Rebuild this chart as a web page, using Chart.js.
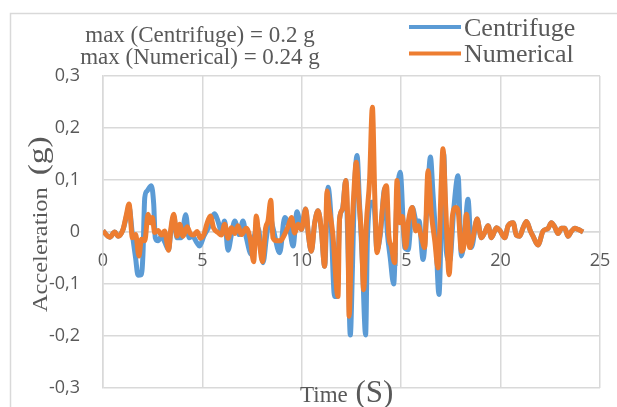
<!DOCTYPE html>
<html>
<head>
<meta charset="utf-8">
<script src="https://cdn.jsdelivr.net/npm/chart.js@4/dist/chart.umd.min.js"></script>
<style>
  body { margin: 0; background: #fff; }
  canvas { display: block; }
</style>
</head>
<body>
<canvas id="accChart" width="617" height="407"></canvas>
<script>
// values, time in s, acceleration in g
const centrifugeTime = [0, 0.34, 0.59, 0.76, 1.01, 1.18, 1.31, 1.48, 1.64, 1.76, 1.93, 2.01, 2.1, 2.22, 2.43, 2.55, 2.63, 2.77, 2.94, 3.1,
  3.3, 3.41, 3.56, 3.72, 3.94, 4.16, 4.33, 4.5, 4.73, 4.86, 5.07, 5.3, 5.62, 5.79, 5.95, 6.12, 6.29, 6.46, 6.63, 6.85,
  7.04, 7.21, 7.46, 7.63, 7.8, 8.05, 8.22, 8.4, 8.55, 8.89, 9.14, 9.39, 9.56, 9.76, 9.98, 10.19, 10.34, 10.48, 10.65, 10.82,
  10.98, 11.15, 11.32, 11.45, 11.65, 11.77, 11.9, 12.05, 12.21, 12.32, 12.44, 12.55, 12.64, 12.78, 12.9, 13.05, 13.21, 13.3, 13.5, 13.62,
  13.78, 13.95, 14.17, 14.3, 14.45, 14.62, 14.78, 14.95, 15.18, 15.35, 15.56, 15.76, 15.9, 16.1, 16.3, 16.47, 16.6, 16.75, 16.9, 17.05,
  17.14, 17.27, 17.44, 17.65, 17.86, 18.03, 18.2, 18.36, 18.53, 18.82, 19.03, 19.2, 19.37, 19.54, 19.79, 19.96, 20.21, 20.38, 20.63, 20.79,
  20.96, 21.13, 21.3, 21.5, 21.63, 21.88, 22.14, 22.39, 22.55, 22.72, 22.89, 23.06, 23.23, 23.39, 23.56, 23.73, 23.9, 24.15];
const centrifugeAcc = [0.002, -0.01, 0, -0.008, 0.005, 0.03, 0.048, -0.005, -0.05, -0.083, -0.082, -0.043, 0.066, 0.079, 0.089, 0.054, -0.011, -0.017, -0.008, -0.019,
  -0.034, 0, 0.031, -0.011, -0.011, 0.033, -0.011, -0.008, -0.021, -0.027, -0.008, 0.008, 0.035, 0.02, 0.002, 0.021, -0.035, -0.005, 0.021, -0.005,
  0.021, -0.011, -0.043, -0.005, 0.008, -0.059, -0.011, 0.03, 0.008, -0.04, 0.028, 0.005, -0.027, 0.039, 0.005, 0.044, -0.008, -0.037, 0.018, 0.041,
  0.005, -0.066, 0.086, 0.04, -0.124, -0.124, 0.025, 0.044, 0.099, -0.027, -0.198, -0.066, 0.07, 0.147, 0.057, -0.06, -0.198, -0.014, 0.057, 0.057,
  -0.034, -0.005, 0.083, 0, -0.05, -0.1, 0.06, 0.115, -0.03, -0.034, 0.047, 0.021, 0.021, -0.053, 0.05, 0.144, 0.073, -0.017, -0.12, 0.07,
  0.15, -0.037, -0.056, 0.047, 0.108, -0.046, 0, 0.063, -0.03, 0.025, -0.011, -0.001, 0.012, -0.011, 0.008, 0.003, -0.011, 0.012, 0.018, -0.006,
  -0.008, 0.008, 0.02, 0.002, -0.008, -0.025, 0.002, 0.007, 0.018, 0.01, -0.003, 0.007, 0.007, -0.008, 0.001, 0.007, 0.005, 0];

const numericalTime = [0, 0.34, 0.59, 0.76, 1.01, 1.18, 1.31, 1.48, 1.64, 1.81, 1.93, 2.1, 2.27, 2.38, 2.48, 2.6, 2.77, 2.94, 3.1, 3.3,
  3.41, 3.56, 3.72, 3.86, 4.03, 4.23, 4.39, 4.56, 4.73, 4.9, 5.07, 5.23, 5.4, 5.57, 5.79, 5.95, 6.12, 6.29, 6.46, 6.63,
  6.79, 6.96, 7.21, 7.41, 7.58, 7.71, 7.85, 8.02, 8.18, 8.3, 8.44, 8.55, 8.75, 8.92, 9.09, 9.31, 9.48, 9.64, 9.81, 9.98,
  10.2, 10.34, 10.48, 10.65, 10.82, 10.98, 11.15, 11.27, 11.36, 11.55, 11.82, 11.9, 12.05, 12.21, 12.32, 12.38, 12.49, 12.61, 12.74, 12.88,
  13.0, 13.11, 13.25, 13.41, 13.55, 13.67, 13.78, 13.92, 14.17, 14.26, 14.38, 14.5, 14.67, 14.79, 14.92, 15.05, 15.23, 15.36, 15.56, 15.73,
  15.85, 16.02, 16.18, 16.35, 16.52, 16.69, 16.85, 17.02, 17.1, 17.24, 17.41, 17.57, 17.74, 17.86, 18.03, 18.16, 18.28, 18.45, 18.61, 18.82,
  19.03, 19.2, 19.37, 19.54, 19.79, 19.96, 20.21, 20.38, 20.63, 20.79, 20.96, 21.13, 21.3, 21.5, 21.63, 21.88, 22.14, 22.39, 22.55, 22.72,
  22.89, 23.06, 23.23, 23.39, 23.56, 23.73, 23.9, 24.15];
const numericalAcc = [0.002, -0.01, 0, -0.008, 0.005, 0.034, 0.054, -0.011, -0.005, -0.046, -0.014, -0.017, 0.034, 0.018, 0.028, -0.001, 0.003, -0.006, 0.002, -0.035,
  0.005, 0.034, -0.008, 0.015, -0.008, 0.01, -0.003, -0.006, 0.001, -0.012, -0.005, 0.016, 0.031, 0.007, -0.001, -0.006, 0.015, -0.012, 0.008, -0.003,
  0.012, -0.005, 0.007, -0.014, -0.057, 0.031, -0.014, -0.057, 0.008, 0.021, 0.061, -0.011, -0.017, -0.017, -0.008, 0.01, 0.028, -0.002, 0.015, 0.005,
  0.044, -0.008, -0.037, 0.018, 0.041, 0.005, -0.066, 0.079, 0.05, 0, -0.124, 0.025, 0.044, 0.099, 0.005, -0.162, -0.027, 0.07, 0.134, 0.057,
  -0.008, -0.111, 0.018, 0.1, 0.24, 0.07, -0.04, -0.008, 0.083, 0.089, -0.008, -0.027, -0.059, 0.099, 0.018, 0.03, -0.03, 0.02, 0.047, 0.002,
  0.012, -0.011, -0.03, 0.118, 0.034, -0.017, -0.069, 0.099, 0.16, 0.047, -0.082, 0.028, 0.047, 0.041, -0.037, -0.024, 0.034, -0.03, -0.011, 0.025,
  -0.011, -0.001, 0.012, -0.011, 0.008, 0.003, -0.011, 0.012, 0.018, -0.006, -0.008, 0.008, 0.02, 0.002, -0.008, -0.025, 0.002, 0.007, 0.018, 0.01,
  -0.003, 0.007, 0.007, -0.008, 0.001, 0.007, 0.005, 0];

const seriesNames = ["Centrifuge", "Numerical"];
const seriesColors = ["#5B9BD5", "#ED7D31"];
const noteLines = ["max (Centrifuge) = 0.2 g", "max (Numerical) = 0.24 g"];
const xTicks = [0, 5, 10, 15, 20, 25];
const yTicks = [-0.3, -0.2, -0.1, 0, 0.1, 0.2, 0.3];

const textColor = "#595959";
const gridColor = "#d9d9d9";

function toPoints(xs, ys) {
  return xs.map((x, i) => ({ x: x, y: ys[i] }));
}

// draws text with an extra stretch along its direction (the picture is a bit squeezed)
function stretchText(ctx, text, x, y, font, sx) {
  ctx.save();
  ctx.font = font;
  ctx.translate(x, y);
  ctx.scale(sx, 1);
  ctx.fillText(text, 0, 0);
  const w = ctx.measureText(text).width * sx;
  ctx.restore();
  return w;
}

const decorations = {
  id: "decorations",
  beforeDraw(chart) {
    const ctx = chart.ctx;
    ctx.save();
    ctx.strokeStyle = gridColor;
    ctx.lineWidth = 1.5;
    ctx.strokeRect(10.5, 13.5, 640, 420);
    ctx.restore();
  },
  afterDraw(chart) {
    const ctx = chart.ctx;
    ctx.save();
    ctx.fillStyle = textColor;
    ctx.textBaseline = "alphabetic";

    // max notes
    ctx.font = "23px 'Liberation Serif'";
    ctx.textAlign = "center";
    ctx.fillText(noteLines[0], 200, 42);
    ctx.fillText(noteLines[1], 200, 64);

    // legend
    ctx.textAlign = "left";
    ctx.font = "26px 'Liberation Serif'";
    seriesNames.forEach((name, i) => {
      const y = 27 + i * 26.5;
      ctx.strokeStyle = seriesColors[i];
      ctx.lineWidth = 4;
      ctx.beginPath();
      ctx.moveTo(409, y);
      ctx.lineTo(461, y);
      ctx.stroke();
      ctx.fillText(name, 464, y + 8.5);
    });

    // x title
    let w = stretchText(ctx, "Time ", 300, 402, "23px 'Liberation Serif'", 1);
    stretchText(ctx, "(S)", 300 + w + 2, 402, "31px 'Liberation Serif'", 1);

    // y title
    ctx.save();
    ctx.translate(47, 312);
    ctx.rotate(-Math.PI / 2);
    w = stretchText(ctx, "Acceleration", 0, 0, "20px 'Liberation Serif'", 1.22);
    stretchText(ctx, "(g)", w + 12, 0, "28px 'Liberation Serif'", 1.2);
    ctx.restore();

    ctx.restore();
  }
};

new Chart(document.getElementById("accChart"), {
  type: "line",
  data: {
    datasets: [{
      label: seriesNames[0],
      data: toPoints(centrifugeTime, centrifugeAcc),
      borderColor: seriesColors[0],
      backgroundColor: seriesColors[0],
      borderWidth: 5,
      pointRadius: 0,
      cubicInterpolationMode: "monotone",
      order: 1
    }, {
      label: seriesNames[1],
      data: toPoints(numericalTime, numericalAcc),
      borderColor: seriesColors[1],
      backgroundColor: seriesColors[1],
      borderWidth: 5,
      pointRadius: 0,
      cubicInterpolationMode: "monotone",
      order: 0
    }]
  },
  options: {
    responsive: false,
    animation: false,
    devicePixelRatio: 1,
    layout: { padding: { left: 0, top: 76, right: 17, bottom: 19 } },
    plugins: {
      legend: { display: false },
      title: { display: false },
      tooltip: { enabled: false }
    },
    scales: {
      x: {
        type: "linear",
        position: { y: 0 },
        min: 0,
        max: 25,
        afterBuildTicks: s => { s.ticks = xTicks.map(v => ({ value: v })); },
        afterFit: s => { s.paddingLeft = 0; s.paddingRight = 0; },
        grid: { color: gridColor, lineWidth: 1.5, drawTicks: false },
        border: { color: gridColor, width: 1.5 },
        ticks: {
          padding: 18,
          color: textColor,
          font: { family: "'Open Sans'", size: 18 },
          maxRotation: 0
        }
      },
      y: {
        min: -0.3,
        max: 0.3,
        afterBuildTicks: s => { s.ticks = yTicks.map(v => ({ value: v })); },
        afterFit: s => { s.width = 103; s.paddingTop = 0; s.paddingBottom = 0; },
        grid: { color: gridColor, lineWidth: 1.5, drawTicks: false },
        border: { color: gridColor, width: 1.5 },
        ticks: {
          padding: 23,
          color: textColor,
          font: { family: "'Open Sans'", size: 18 },
          callback: v => {
            const r = Math.round(v * 10) / 10;
            return r === 0 ? "0" : String(r).replace(".", ",");
          }
        }
      }
    }
  },
  plugins: [decorations]
});
</script>
</body>
</html>
